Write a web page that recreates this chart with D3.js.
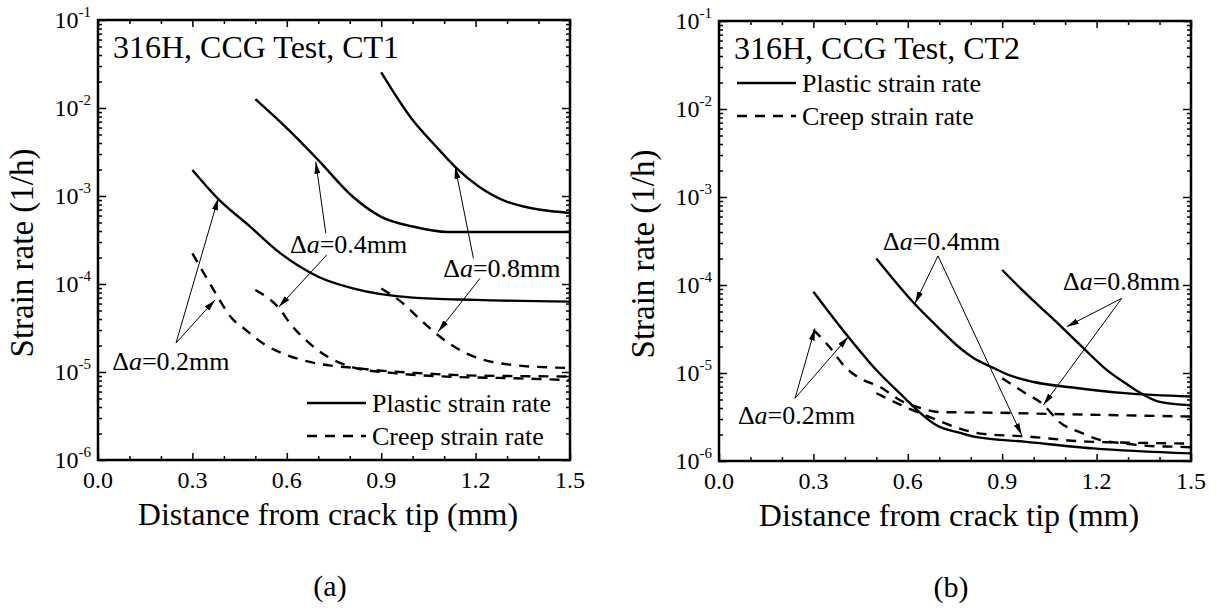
<!DOCTYPE html>
<html>
<head>
<meta charset="utf-8">
<script src="https://cdn.jsdelivr.net/npm/d3@7/dist/d3.min.js"></script>
<style>
  body { margin: 0; background: #fff; }
  svg { font-family: "Liberation Serif", "Times New Roman", serif; }
</style>
</head>
<body>
<svg id="chart" width="1217" height="610"></svg>
<script>
// tick values
const xTicks = [0, 0.3, 0.6, 0.9, 1.2, 1.5];
const xMinorTicks = [0.1, 0.2, 0.4, 0.5, 0.7, 0.8, 1.0, 1.1, 1.3, 1.4];
const yExponents = [-6, -5, -4, -3, -2, -1];

// CT1 - panel (a), [distance mm, strain rate 1/h]
const ct1Plastic02 = [[0.30, 1.97e-3], [0.38, 9.4e-4], [0.48, 4.6e-4], [0.58, 2.23e-4], [0.70, 1.21e-4], [0.81, 8.9e-5], [1.00, 7.0e-5], [1.20, 6.6e-5], [1.50, 6.3e-5]];
const ct1Plastic04 = [[0.50, 1.26e-2], [0.60, 5.9e-3], [0.70, 2.56e-3], [0.81, 9.8e-4], [0.90, 5.8e-4], [1.00, 4.5e-4], [1.11, 3.9e-4], [1.50, 3.9e-4]];
const ct1Plastic08 = [[0.90, 2.54e-2], [1.00, 7.3e-3], [1.07, 3.8e-3], [1.14, 2.06e-3], [1.21, 1.28e-3], [1.30, 8.6e-4], [1.50, 6.4e-4]];
const ct1Creep02 = [[0.30, 2.23e-4], [0.34, 1.26e-4], [0.38, 7.2e-5], [0.42, 4.3e-5], [0.47, 3.0e-5], [0.53, 2.05e-5], [0.60, 1.56e-5], [0.67, 1.31e-5], [0.74, 1.18e-5], [0.81, 1.12e-5], [0.88, 1.05e-5], [1.00, 9.8e-6], [1.20, 9.1e-6], [1.50, 8.9e-6]];
const ct1Creep04 = [[0.50, 8.55e-5], [0.58, 5.07e-5], [0.61, 3.57e-5], [0.66, 2.31e-5], [0.73, 1.49e-5], [0.81, 1.13e-5], [0.94, 9.7e-6], [1.11, 8.85e-6], [1.32, 8.5e-6], [1.50, 8.1e-6]];
const ct1Creep08 = [[0.90, 8.9e-5], [0.97, 6.0e-5], [1.02, 4.07e-5], [1.08, 2.63e-5], [1.14, 1.86e-5], [1.21, 1.43e-5], [1.32, 1.2e-5], [1.46, 1.12e-5], [1.50, 1.11e-5]];

// CT2 - panel (b)
const ct2Plastic02 = [[0.30, 8.4e-5], [0.41, 2.6e-5], [0.50, 1.08e-5], [0.59, 5.2e-6], [0.64, 3.5e-6], [0.69, 2.56e-6], [0.77, 2.07e-6], [0.81, 1.89e-6], [0.97, 1.66e-6], [1.19, 1.39e-6], [1.50, 1.22e-6]];
const ct2Plastic04 = [[0.50, 2.0e-4], [0.62, 6.2e-5], [0.70, 3.2e-5], [0.76, 2.0e-5], [0.81, 1.47e-5], [0.87, 1.15e-5], [0.92, 9.5e-6], [1.00, 7.9e-6], [1.13, 6.8e-6], [1.29, 5.9e-6], [1.50, 5.4e-6]];
const ct2Plastic08 = [[0.90, 1.48e-4], [0.95, 9.8e-5], [1.00, 6.6e-5], [1.09, 3.3e-5], [1.15, 2.05e-5], [1.23, 1.1e-5], [1.30, 7.3e-6], [1.34, 5.9e-6], [1.40, 4.7e-6], [1.50, 4.3e-6]];
const ct2Creep02 = [[0.30, 3.1e-5], [0.35, 2.0e-5], [0.40, 1.18e-5], [0.45, 8.6e-6], [0.51, 7.0e-6], [0.58, 4.8e-6], [0.64, 4.0e-6], [0.70, 3.6e-6], [0.85, 3.55e-6], [1.10, 3.4e-6], [1.50, 3.2e-6]];
const ct2Creep04 = [[0.50, 5.9e-6], [0.58, 4.3e-6], [0.69, 2.95e-6], [0.76, 2.37e-6], [0.83, 2.05e-6], [0.98, 1.9e-6], [1.17, 1.66e-6], [1.50, 1.58e-6]];
const ct2Creep08 = [[0.90, 8.7e-6], [0.97, 6.0e-6], [1.03, 4.4e-6], [1.08, 2.8e-6], [1.15, 2.1e-6], [1.21, 1.74e-6], [1.29, 1.58e-6], [1.37, 1.48e-6], [1.46, 1.45e-6], [1.50, 1.43e-6]];

// annotations: label position, arrows from -> to (data units)
const notesCT1 = [
  { crack: "0.2", at: [0.045, 1.05e-5], arrows: [[[0.248, 2.14e-5], [0.382, 9.4e-4]], [[0.248, 2.14e-5], [0.372, 6.6e-5]]] },
  { crack: "0.4", at: [0.61, 2.25e-4], arrows: [[[0.724, 3.77e-4], [0.692, 2.45e-3]], [[0.727, 2.14e-4], [0.575, 5.5e-5]]] },
  { crack: "0.8", at: [1.097, 1.21e-4], arrows: [[[1.193, 1.96e-4], [1.135, 2.15e-3]], [[1.214, 1.16e-4], [1.081, 2.87e-5]]] }
];
const notesCT2 = [
  { crack: "0.2", at: [0.06, 2.63e-6], arrows: [[[0.2415, 5.15e-6], [0.305, 3.2e-5]], [[0.2415, 5.15e-6], [0.411, 2.58e-5]]] },
  { crack: "0.4", at: [0.521, 2.5e-4], arrows: [[[0.696, 2.14e-4], [0.623, 6.2e-5]], [[0.696, 2.14e-4], [0.962, 1.97e-6]]] },
  { crack: "0.8", at: [1.093, 8.8e-5], arrows: [[[1.28, 7.06e-5], [1.105, 3.36e-5]], [[1.28, 7.06e-5], [1.031, 4.33e-6]]] }
];

const panels = [
  { left: 98, top: 20, title: "316H, CCG Test, CT1", tag: "(a)",
    plastic: [ct1Plastic02, ct1Plastic04, ct1Plastic08],
    creep: [ct1Creep02, ct1Creep04, ct1Creep08],
    notes: notesCT1, legend: { x: 209, y: 383 } },
  { left: 719, top: 21, title: "316H, CCG Test, CT2", tag: "(b)",
    plastic: [ct2Plastic02, ct2Plastic04, ct2Plastic08],
    creep: [ct2Creep02, ct2Creep04, ct2Creep08],
    notes: notesCT2, legend: { x: 18, y: 62 } }
];

const width = 472;
const height = 440;
const svg = d3.select("#chart");

svg.append("defs")
  .append("marker")
  .attr("id", "arrow")
  .attr("viewBox", "0 0 12 6")
  .attr("refX", 12)
  .attr("refY", 3)
  .attr("markerWidth", 12)
  .attr("markerHeight", 6)
  .attr("markerUnits", "userSpaceOnUse")
  .attr("orient", "auto")
  .append("path")
  .attr("d", "M0,0 L12,3 L0,6 Z")
  .attr("fill", "#000");

//scales (shared by both panels)
const x = d3.scaleLinear().domain([0, 1.5]).range([0, width]);
const y = d3.scaleLog().domain([1e-6, 1e-1]).range([height, 0]);

const yMinor = [];
yExponents.slice(0, -1).forEach((e) => {
  for (let m = 2; m <= 9; m++) yMinor.push(m * Math.pow(10, e));
});

const line = d3
  .line()
  .x((d) => x(d[0]))
  .y((d) => y(d[1]))
  .curve(d3.curveMonotoneX);

panels.forEach((p) => {
  const g = svg.append("g").attr("transform", `translate(${p.left},${p.top})`);

  //ticks, all pointing inward
  const tickAxes = [
    [d3.axisBottom(x).tickValues(xTicks).tickSize(-7), `translate(0,${height})`],
    [d3.axisBottom(x).tickValues(xMinorTicks).tickSize(-4), `translate(0,${height})`],
    [d3.axisTop(x).tickValues(xTicks).tickSize(-7), null],
    [d3.axisTop(x).tickValues(xMinorTicks).tickSize(-4), null],
    [d3.axisLeft(y).tickValues(yExponents.map((e) => Math.pow(10, e))).tickSize(-8), null],
    [d3.axisLeft(y).tickValues(yMinor).tickSize(-4), null],
    [d3.axisRight(y).tickValues(yExponents.map((e) => Math.pow(10, e))).tickSize(-8), `translate(${width},0)`],
    [d3.axisRight(y).tickValues(yMinor).tickSize(-4), `translate(${width},0)`]
  ];
  tickAxes.forEach(([axis, tr]) => {
    const a = g.append("g").call(axis.tickFormat(""));
    if (tr) a.attr("transform", tr);
    a.select(".domain").remove();
    a.selectAll("line").attr("stroke", "#000").attr("stroke-width", 1.5);
  });

  //frame
  g.append("rect")
    .attr("width", width)
    .attr("height", height)
    .attr("fill", "none")
    .attr("stroke", "#000")
    .attr("stroke-width", 2.5);

  //x tick labels
  g.selectAll(".xlab")
    .data(xTicks)
    .enter()
    .append("text")
    .attr("x", (d) => x(d))
    .attr("y", height + 28)
    .attr("text-anchor", "middle")
    .attr("font-size", 24)
    .text((d) => d.toFixed(1));

  //y tick labels 10^n
  const ylab = g.selectAll(".ylab")
    .data(yExponents)
    .enter()
    .append("text")
    .attr("x", -7)
    .attr("y", (d) => y(Math.pow(10, d)) + 8)
    .attr("text-anchor", "end")
    .attr("font-size", 24);
  ylab.append("tspan").text("10");
  ylab.append("tspan").attr("dy", -11).attr("font-size", 15).text((d) => "-" + -d);

  //axis titles
  g.append("text")
    .attr("x", width / 2 - 6)
    .attr("y", height + 65)
    .attr("text-anchor", "middle")
    .attr("font-size", 32)
    .text("Distance from crack tip (mm)");

  g.append("text")
    .attr("transform", `translate(-65,${height / 2 + 13}) rotate(-90)`)
    .attr("text-anchor", "middle")
    .attr("font-size", 33)
    .text("Strain rate (1/h)");

  g.append("text")
    .attr("x", width / 2 - 4)
    .attr("y", height + 136)
    .attr("text-anchor", "middle")
    .attr("font-size", 30)
    .text(p.tag);

  //title
  g.append("text")
    .attr("x", 15)
    .attr("y", 38)
    .attr("font-size", 32)
    .text(p.title);

  //curves
  g.selectAll(".plastic")
    .data(p.plastic)
    .enter()
    .append("path")
    .attr("d", line)
    .attr("fill", "none")
    .attr("stroke", "#000")
    .attr("stroke-width", 2.4);

  g.selectAll(".creep")
    .data(p.creep)
    .enter()
    .append("path")
    .attr("d", line)
    .attr("fill", "none")
    .attr("stroke", "#000")
    .attr("stroke-width", 2.4)
    .attr("stroke-dasharray", "10,8");

  //annotations
  p.notes.forEach((n) => {
    const t = g.append("text")
      .attr("x", x(n.at[0]))
      .attr("y", y(n.at[1]))
      .attr("font-size", 26);
    t.append("tspan").text("\u0394");
    t.append("tspan").attr("font-style", "italic").text("a");
    t.append("tspan").text("=" + n.crack + "mm");

    n.arrows.forEach(([from, to]) => {
      g.append("line")
        .attr("x1", x(from[0]))
        .attr("y1", y(from[1]))
        .attr("x2", x(to[0]))
        .attr("y2", y(to[1]))
        .attr("stroke", "#000")
        .attr("stroke-width", 1)
        .attr("marker-end", "url(#arrow)");
    });
  });

  //legend
  const leg = g.append("g").attr("transform", `translate(${p.legend.x},${p.legend.y})`);
  [["Plastic strain rate", null], ["Creep strain rate", "10,8"]].forEach(([label, dash], i) => {
    leg.append("line")
      .attr("x1", 0)
      .attr("x2", 59)
      .attr("y1", i * 33)
      .attr("y2", i * 33)
      .attr("stroke", "#000")
      .attr("stroke-width", 2.4)
      .attr("stroke-dasharray", dash);
    leg.append("text")
      .attr("x", 65)
      .attr("y", i * 33 + 9)
      .attr("font-size", 26)
      .text(label);
  });
});
</script>
</body>
</html>
